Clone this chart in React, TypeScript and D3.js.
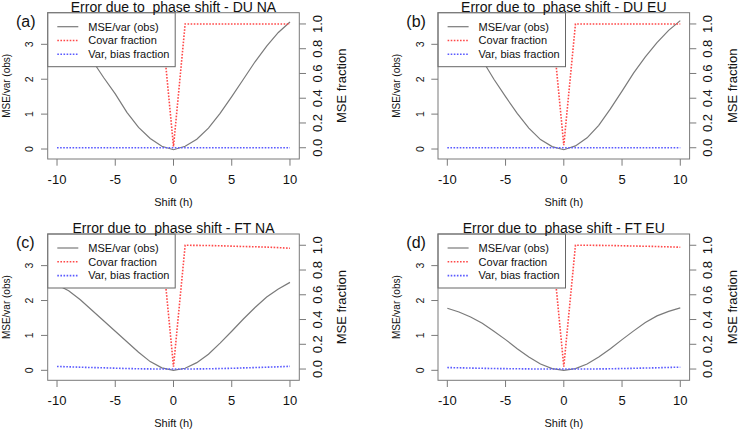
import { useEffect, useRef } from 'react'
import * as d3 from 'd3'

// shift in hours, shared by all four panels
const SHIFT = [-10, -9, -8, -7, -6, -5, -4, -3, -2, -1, 0, 1, 2, 3, 4, 5, 6, 7, 8, 9, 10]

const TITLES = ['DU NA', 'DU EU', 'FT NA', 'FT EU']
const TAGS = ['(a)', '(b)', '(c)', '(d)']

// MSE / var(obs)
const MSE_DU_NA = [3.66, 3.38, 3.0, 2.55, 2.05, 1.58, 1.05, 0.62, 0.3, 0.08, -0.02, 0.08, 0.28, 0.6, 1.02, 1.5, 2.0, 2.5, 2.95, 3.34, 3.64]
const MSE_DU_EU = [3.6, 3.36, 3.0, 2.55, 2.0, 1.5, 1.02, 0.6, 0.27, 0.07, -0.02, 0.09, 0.32, 0.68, 1.15, 1.66, 2.18, 2.64, 3.05, 3.4, 3.68]
const MSE_FT_NA = [2.45, 2.28, 2.02, 1.72, 1.42, 1.12, 0.82, 0.52, 0.25, 0.07, 0.0, 0.06, 0.22, 0.46, 0.78, 1.12, 1.47, 1.8, 2.1, 2.33, 2.52]
const MSE_FT_EU = [1.78, 1.67, 1.53, 1.35, 1.12, 0.88, 0.62, 0.38, 0.18, 0.05, 0.0, 0.05, 0.18, 0.38, 0.62, 0.88, 1.13, 1.37, 1.56, 1.69, 1.79]

// covariance fraction of the MSE
const COV_DU_NA = [1, 1, 1, 1, 1, 1, 1, 1, 1, 1, 0.01, 1, 1, 1, 1, 1, 1, 1, 1, 1, 1]
const COV_DU_EU = [1, 1, 1, 1, 1, 1, 1, 1, 1, 1, 0.02, 1, 1, 1, 1, 1, 1, 1, 1, 1, 1]
const COV_FT_NA = [0.978, 0.982, 0.985, 0.988, 0.99, 0.993, 0.996, 0.998, 0.999, 1, 0.02, 1, 0.999, 0.998, 0.996, 0.993, 0.99, 0.988, 0.985, 0.981, 0.976]
const COV_FT_EU = [0.988, 0.99, 0.992, 0.994, 0.996, 0.997, 0.998, 0.999, 1, 1, 0.02, 1, 1, 0.999, 0.998, 0.996, 0.994, 0.992, 0.99, 0.987, 0.984]

// variance + bias fraction of the MSE
const VB_DU_NA = [0, 0, 0, 0, 0, 0, 0, 0, 0, 0, 0, 0, 0, 0, 0, 0, 0, 0, 0, 0, 0]
const VB_DU_EU = [0, 0, 0, 0, 0, 0, 0, 0, 0, 0, 0, 0, 0, 0, 0, 0, 0, 0, 0, 0, 0]
const VB_FT_NA = [0.021, 0.018, 0.015, 0.012, 0.01, 0.007, 0.004, 0.002, 0.001, 0, 0, 0, 0.001, 0.002, 0.004, 0.006, 0.009, 0.012, 0.015, 0.018, 0.022]
const VB_FT_EU = [0.012, 0.01, 0.008, 0.006, 0.004, 0.003, 0.002, 0.001, 0, 0, 0, 0, 0, 0.001, 0.002, 0.004, 0.006, 0.008, 0.01, 0.013, 0.015]

const MSE = [MSE_DU_NA, MSE_DU_EU, MSE_FT_NA, MSE_FT_EU]
const COV = [COV_DU_NA, COV_DU_EU, COV_FT_NA, COV_FT_EU]
const VB = [VB_DU_NA, VB_DU_EU, VB_FT_NA, VB_FT_EU]

const X_TICKS = [-10, -5, 0, 5, 10]
const L_TICKS = [0, 1, 2, 3]
const R_TICKS = [0, 0.2, 0.4, 0.6, 0.8, 1.0]
const LEGEND = ['MSE/var (obs)', 'Covar fraction', 'Var, bias fraction']

const W = 738, H = 431
const BOX_W = 251.6, BOX_H = 146.3
const ORIGINS: [number, number][] = [[47.7, 12.7], [438, 12.7], [47.7, 234], [438, 234]]
const FONT = '"Liberation Sans", Arial, sans-serif'
const GREY = '#7a7a7a'
const RED = '#ff4848'
const BLUE = '#5a5aff'

export default function App() {
  const svgRef = useRef<SVGSVGElement>(null)

  useEffect(() => {
    const svg = d3.select(svgRef.current)
    svg.selectAll('*').remove()
    svg.append('rect').attr('width', W).attr('height', H).attr('fill', '#fff')

    const xSc = d3.scaleLinear().domain([-10.8, 10.8]).range([0, BOX_W])
    const lSc = d3.scaleLinear().domain([-0.286, 3.906]).range([BOX_H, 0])
    const rSc = d3.scaleLinear().domain([-0.091, 1.091]).range([BOX_H, 0])

    ORIGINS.forEach(([ox, oy], p) => {
      const g = svg.append('g').attr('transform', `translate(${ox},${oy})`).attr('font-family', FONT)

      const mseLine = d3.line<number>().x((_, i) => xSc(SHIFT[i])).y((v) => lSc(v))
      const fracLine = d3.line<number>().x((_, i) => xSc(SHIFT[i])).y((v) => rSc(v))
      g.append('path').datum(MSE[p]).attr('d', mseLine).attr('fill', 'none').attr('stroke', GREY).attr('stroke-width', 1.2)
      g.append('path').datum(VB[p]).attr('d', fracLine).attr('fill', 'none').attr('stroke', BLUE).attr('stroke-width', 1.6).attr('stroke-dasharray', '1.6 1.5')
      g.append('path').datum(COV[p]).attr('d', fracLine).attr('fill', 'none').attr('stroke', RED).attr('stroke-width', 1.6).attr('stroke-dasharray', '1.6 1.5')

      // legend, top-left, opaque
      const lg = g.append('g')
      lg.append('rect').attr('width', 127.5).attr('height', 54).attr('fill', '#fff').attr('stroke', '#666').attr('stroke-width', 1)
      const styles = [
        { c: GREY, w: 1.2, d: null },
        { c: RED, w: 1.6, d: '1.6 1.5' },
        { c: BLUE, w: 1.6, d: '1.6 1.5' },
      ]
      LEGEND.forEach((t, i) => {
        const y = 14 + i * 13.8
        lg.append('line').attr('x1', 9.6).attr('x2', 30.6).attr('y1', y).attr('y2', y)
          .attr('stroke', styles[i].c).attr('stroke-width', styles[i].w).attr('stroke-dasharray', styles[i].d)
        lg.append('text').attr('x', 40.6).attr('y', y).attr('dy', '0.35em').attr('font-size', 11).attr('fill', '#111').text(t)
      })

      // plot box
      g.append('rect').attr('width', BOX_W).attr('height', BOX_H).attr('fill', 'none').attr('stroke', GREY).attr('stroke-width', 1)

      // bottom axis
      X_TICKS.forEach((t) => {
        g.append('line').attr('x1', xSc(t)).attr('x2', xSc(t)).attr('y1', BOX_H).attr('y2', BOX_H + 6.7).attr('stroke', GREY)
        g.append('text').attr('x', xSc(t)).attr('y', BOX_H + 20).attr('dy', '0.35em').attr('text-anchor', 'middle')
          .attr('font-size', 13).attr('fill', '#111').text(String(t))
      })
      g.append('text').attr('x', BOX_W / 2).attr('y', BOX_H + 43.3).attr('dy', '0.35em').attr('text-anchor', 'middle')
        .attr('font-size', 11).attr('fill', '#111').text('Shift (h)')

      // left axis
      L_TICKS.forEach((t) => {
        g.append('line').attr('x1', -6.7).attr('x2', 0).attr('y1', lSc(t)).attr('y2', lSc(t)).attr('stroke', GREY)
        g.append('text').attr('transform', `translate(-18,${lSc(t)}) rotate(-90)`).attr('dy', '0.35em').attr('text-anchor', 'middle')
          .attr('font-size', 10.5).attr('fill', '#111').text(String(t))
      })
      g.append('text').attr('transform', `translate(-41.4,${BOX_H / 2}) rotate(-90)`).attr('dy', '0.35em').attr('text-anchor', 'middle')
        .attr('font-size', 10).attr('fill', '#111').text('MSE/var (obs)')

      // right axis
      R_TICKS.forEach((t) => {
        g.append('line').attr('x1', BOX_W).attr('x2', BOX_W + 6.7).attr('y1', rSc(t)).attr('y2', rSc(t)).attr('stroke', GREY)
        g.append('text').attr('transform', `translate(${BOX_W + 18},${rSc(t)}) rotate(-90)`).attr('dy', '0.35em').attr('text-anchor', 'middle')
          .attr('font-size', 13).attr('fill', '#111').text(t.toFixed(1))
      })
      g.append('text').attr('transform', `translate(${BOX_W + 42.4},${BOX_H / 2}) rotate(-90)`).attr('dy', '0.35em').attr('text-anchor', 'middle')
        .attr('font-size', 13).attr('fill', '#111').text('MSE fraction')

      // title + panel tag
      g.append('text').attr('x', BOX_W / 2).attr('y', -1.2).attr('text-anchor', 'middle').attr('font-size', 14).attr('fill', '#111')
        .style('white-space', 'pre').text(`Error due to  phase shift - ${TITLES[p]}`)
      g.append('text').attr('x', -31.7).attr('y', 13.8).attr('font-size', 16).attr('fill', '#111').text(TAGS[p])
    })
  }, [])

  return (
    <svg ref={svgRef} width={W} height={H} style={{ position: 'absolute', left: 0, top: 0 }} />
  )
}
